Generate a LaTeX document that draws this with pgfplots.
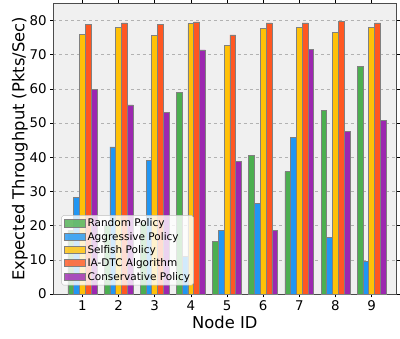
\documentclass[border=0pt]{standalone}
\usepackage{pgfplots}
\pgfplotsset{compat=1.18}
\usepackage{fontspec}
\setmainfont{DejaVu Sans}
\definecolor{cg}{HTML}{4CAF50}
\definecolor{cb}{HTML}{2196F3}
\definecolor{cy}{HTML}{FFC107}
\definecolor{co}{HTML}{FF5722}
\definecolor{cp}{HTML}{9C27B0}
\definecolor{bg}{HTML}{F0F0F0}
\begin{document}
\begin{tikzpicture}
\begin{axis}[
  name=ax,
  scale only axis,
  width=346pt, height=293pt,
  xmin=0.2, xmax=9.68,
  ymin=0, ymax=84.9,
  axis background/.style={fill=bg},
  axis line style={black!70, line width=0.9pt},
  xtick={1,...,9},
  ytick={0,10,...,80},
  tick align=outside,
  tick style={black, line width=0.6pt},
  major tick length=3.5pt,
  ymajorgrids,
  grid style={dashed, black!30, line width=0.5pt},
  /pgf/number format/assume math mode=true,
  ticklabel style={font=\fontsize{13.5}{16}\selectfont},
  xlabel={Node ID},
  ylabel={Expected Throughput (Pkts/Sec)},
  label style={font=\fontsize{16.5}{20}\selectfont},
  xlabel style={at={(axis description cs:0.5,-0.099)}, anchor=center},
  ylabel style={at={(axis description cs:-0.098,0.5)}, anchor=center},
  ybar,
  bar width=0.16,
  every axis plot/.append style={draw=black!50, line width=0.7pt},
  legend cell align=left,
  legend style={at={(rel axis cs:0.023,0.03)}, anchor=south west,
    font=\fontsize{10.6}{12.5}\selectfont, fill=white, fill opacity=0.8, text opacity=1,
    draw=black!25, rounded corners=2pt, row sep=0.9pt, inner sep=2pt,
    nodes={inner sep=1.5pt}},
  legend image code/.code={\draw[#1, draw=black!50, sharp corners] (0pt,-3.3pt) rectangle (22pt,3.8pt);},
  clip=false,
]
\addplot[fill=cg, bar shift=-0.32] coordinates {(1,18.5) (2,20) (3,21) (4,59.0) (5,15.4) (6,40.5) (7,35.8) (8,53.6) (9,66.6)};
\addplot[fill=cb, bar shift=-0.16] coordinates {(1,28.2) (2,43.0) (3,39.1) (4,11.0) (5,18.5) (6,26.6) (7,45.9) (8,16.5) (9,9.5)};
\addplot[fill=cy, bar shift=0] coordinates {(1,76.0) (2,78.0) (3,75.7) (4,79.1) (5,72.8) (6,77.8) (7,78.0) (8,76.6) (9,78.1)};
\addplot[fill=co, bar shift=0.16] coordinates {(1,78.8) (2,79.3) (3,78.8) (4,79.6) (5,75.8) (6,79.3) (7,79.3) (8,79.8) (9,79.3)};
\addplot[fill=cp, bar shift=0.32] coordinates {(1,59.8) (2,55.3) (3,53.2) (4,71.4) (5,38.7) (6,18.7) (7,71.5) (8,47.6) (9,50.7)};
\legend{Random Policy, Aggressive Policy, Selfish Policy, IA-DTC Algorithm, Conservative Policy}
\end{axis}
\path (ax.south west) ++(-54pt,-45pt);
\path (ax.north east);
\end{tikzpicture}
\end{document}
